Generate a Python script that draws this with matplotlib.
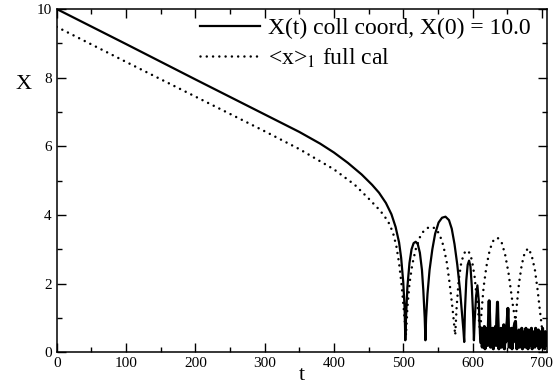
"""collective coordinate X(t) vs full calculation <x>_1"""

import matplotlib
matplotlib.use('Agg')
import matplotlib.pyplot as plt
from matplotlib.ticker import MultipleLocator

# X(t) collective coordinate, X(0) = 10.0
t_coll = [0, 100, 200, 300, 350, 380, 400, 420, 440, 455, 465, 475, 483, 489, 494, 497, 500, 502, 503,
          504, 506, 509, 512, 515, 518, 521, 524, 527, 529, 531, 532,
          533, 535, 538, 542, 546, 551, 556, 561, 566, 570, 574, 578, 582, 585, 587, 588,
          589, 591, 593, 595, 597, 599, 601, 602,
          603, 605, 607, 609, 610, 611]
x_coll = [10.0, 8.98, 7.95, 6.93, 6.42, 6.08, 5.82, 5.52, 5.18, 4.88, 4.65, 4.35, 4.02, 3.65, 3.2, 2.75, 2.05, 1.3, 0.35,
          1.0, 1.9, 2.6, 3.0, 3.18, 3.22, 3.15, 2.9, 2.4, 1.8, 1.0, 0.35,
          1.0, 1.7, 2.4, 3.0, 3.45, 3.78, 3.92, 3.95, 3.85, 3.6, 3.15, 2.55, 1.8, 1.1, 0.6, 0.3,
          1.2, 2.1, 2.55, 2.67, 2.5, 1.9, 1.0, 0.35,
          0.9, 1.6, 1.95, 1.5, 0.9, 0.4]
# noisy tail, one value per time unit from t = 612
t_tail = list(range(612, 708))
x_tail = [0.3, 0.7, 0.15, 0.6, 0.2, 0.75, 0.1, 0.55, 0.25, 0.7, 0.2, 0.9, 1.5, 0.8, 0.15, 0.6,
          0.2, 0.7, 0.1, 0.6, 0.3, 0.75, 0.2, 0.9, 1.46, 0.7, 0.1, 0.55, 0.25, 0.7, 0.15, 0.6,
          0.3, 0.8, 0.1, 0.5, 0.3, 0.7, 0.9, 1.28, 0.6, 0.15, 0.55, 0.25, 0.7, 0.1, 0.6, 0.3,
          0.75, 0.85, 0.9, 0.4, 0.1, 0.55, 0.2, 0.65, 0.15, 0.5, 0.3, 0.7, 0.1, 0.55, 0.2, 0.6,
          0.15, 0.7, 0.25, 0.5, 0.1, 0.65, 0.2, 0.55, 0.3, 0.7, 0.1, 0.5, 0.25, 0.6, 0.15, 0.7,
          0.2, 0.5, 0.3, 0.65, 0.1, 0.55, 0.2, 0.6, 0.15, 0.7, 0.25, 0.55, 0.1, 0.6, 0.2, 0.5]

# <x>_1 from the full calculation
t_full = [0, 100, 200, 300, 350, 400, 430, 450, 467, 478, 485, 490, 494, 498, 501, 504,
          506, 509, 513, 518, 524, 530, 536, 542, 548, 553, 558, 563, 567, 571, 575,
          577, 580, 584, 589, 594, 599, 603, 606, 609, 611,
          613, 616, 620, 625, 630, 636, 642, 647, 652, 656, 659, 662,
          664, 667, 671, 675, 680, 685, 690, 694, 697, 700, 703, 707]
x_full = [9.48, 8.46, 7.45, 6.44, 5.92, 5.33, 4.88, 4.48, 4.12, 3.82, 3.5, 3.1, 2.6, 1.9, 1.2, 0.5,
          1.3, 2.0, 2.55, 3.0, 3.35, 3.55, 3.63, 3.65, 3.58, 3.4, 3.1, 2.6, 2.0, 1.3, 0.5,
          1.3, 2.1, 2.65, 2.92, 2.96, 2.7, 2.2, 1.6, 1.0, 0.55,
          1.2, 1.9, 2.5, 3.0, 3.25, 3.34, 3.2, 2.85, 2.3, 1.7, 1.25, 0.93,
          1.4, 2.0, 2.55, 2.88, 3.03, 2.85, 2.4, 1.8, 1.25, 0.74, 0.4, 0.3]

plt.rcParams['font.family'] = ['Liberation Serif', 'DejaVu Serif']
plt.rcParams['mathtext.fontset'] = 'stix'

fig = plt.figure(figsize=(5.57, 3.87), dpi=100)
ax = fig.add_axes([0.1018, 0.0897, 0.8797, 0.887])

ax.plot(t_coll + t_tail, x_coll + x_tail, color='black', lw=1.6,
        label='X(t) coll coord, X(0) = 10.0')
# the tail is a dense black band in the original, trace it once more a bit thicker
ax.plot(t_tail, x_tail, color='black', lw=2.2)
ax.plot(t_full, x_full, color='black', lw=1.8, linestyle=(0, (0.01, 2.5)),
        dash_capstyle='round', label=r'<x>$_1$ full cal')

ax.set_xlim(0, 707)
ax.set_ylim(0, 10)
ax.xaxis.set_major_locator(MultipleLocator(100))
ax.xaxis.set_minor_locator(MultipleLocator(50))
ax.yaxis.set_major_locator(MultipleLocator(2))
ax.yaxis.set_minor_locator(MultipleLocator(1))
ax.tick_params(which='both', direction='in', top=True, right=True, labelsize=11, width=1)
ax.tick_params(which='major', length=6.5)
ax.tick_params(which='minor', length=3.3)
for s in ax.spines.values():
    s.set_linewidth(1.1)

ax.set_xlabel('t', fontsize=16, va='center')
ax.xaxis.set_label_coords(0.5, -0.068)
ax.set_ylabel('X', fontsize=16, rotation=0, va='center', ha='center')
ax.yaxis.set_label_coords(-0.067, 0.78)

ax.legend(loc='upper left', bbox_to_anchor=(0.292, 0.975), frameon=False, fontsize=17,
          handlelength=2.55, handletextpad=0.34, borderpad=0, borderaxespad=0,
          labelspacing=0.32)

plt.savefig('out.png', dpi=100)
